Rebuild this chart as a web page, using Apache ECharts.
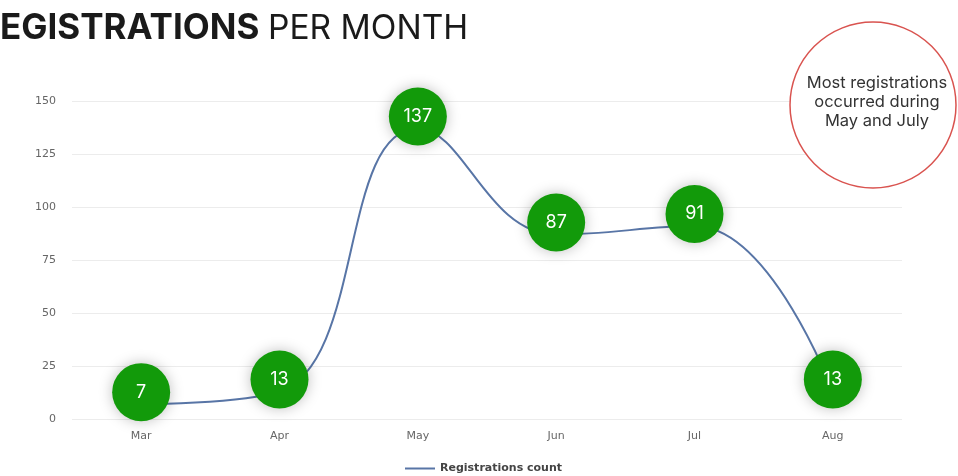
<!DOCTYPE html>
<html><head><meta charset="utf-8">
<script src="https://cdn.jsdelivr.net/npm/echarts@6/dist/echarts.min.js"></script>
<style>html,body{margin:0;padding:0;background:#fff}#c{width:958px;height:476px}</style>
</head><body><div id="c"></div>
<script>
const categories = ['Mar','Apr','May','Jun','Jul','Aug'];
const registrations = [7, 13, 137, 87, 91, 13];
const yTicks = [0, 25, 50, 75, 100, 125, 150];
const seriesName = 'Registrations count';
const titleBold = 'REGISTRATIONS';
const titleLight = 'PER MONTH';
const noteLines = ['Most registrations', 'occurred during', 'May and July'];

const chart = echarts.init(document.getElementById('c'));
chart.setOption({
  animation: false,
  grid: {left: 72, right: 56, top: 101, bottom: 57},
  xAxis: {
    type: 'category', data: categories, boundaryGap: true,
    axisLine: {show: false}, axisTick: {show: false},
    axisLabel: {color: '#666', fontSize: 11, fontFamily: 'DejaVu Sans', margin: 12}
  },
  yAxis: {
    type: 'value', min: yTicks[0], max: yTicks[yTicks.length-1], interval: 25,
    axisLine: {show: false}, axisTick: {show: false},
    axisLabel: {color: '#666', fontSize: 11, fontFamily: 'DejaVu Sans', margin: 16},
    splitLine: {lineStyle: {color: '#ececec', width: 1}}
  },
  legend: {
    bottom: -3, left: 400, itemWidth: 30, itemHeight: 2,
    icon: 'rect', itemGap: 8,
    textStyle: {color: '#444', fontWeight: 'bold', fontSize: 11, fontFamily: 'DejaVu Sans'},
    data: [{name: seriesName, itemStyle: {color: '#5875a6'}}]
  },
  series: [{
    name: seriesName, type: 'line', data: registrations, smooth: 0.45,
    lineStyle: {color: '#5875a6', width: 2},
    symbol: 'circle', symbolSize: 58, symbolOffset: [0, -12],
    itemStyle: {color: '#129a0a', shadowColor: 'rgba(0,0,0,0.25)', shadowBlur: 14},
    label: {show: true, position: 'inside', color: '#fff', fontSize: 18, fontFamily: 'Inter'},
    z: 3
  }],
  graphic: [
    {type: 'text', x: -23, y: 11, style: {
      text: titleBold, fontSize: 35, fontWeight: 700, fontFamily: 'Inter', fill: '#1a1a1a'
    }},
    {type: 'text', x: 268, y: 12, style: {
      text: titleLight, fontSize: 33.5, fontWeight: 400, fontFamily: 'Inter', fill: '#1a1a1a'
    }},
    {type: 'circle', shape: {cx: 873, cy: 105, r: 83},
      style: {fill: '#fff', stroke: '#d9534f', lineWidth: 1.5}, z: 10},
    {type: 'text', x: 877, y: 102, z: 11, style: {
      text: noteLines.join('\n'), align: 'center', verticalAlign: 'middle',
      fontSize: 16.5, lineHeight: 19, fontFamily: 'Inter', fill: '#333'
    }}
  ]
});
</script></body></html>
